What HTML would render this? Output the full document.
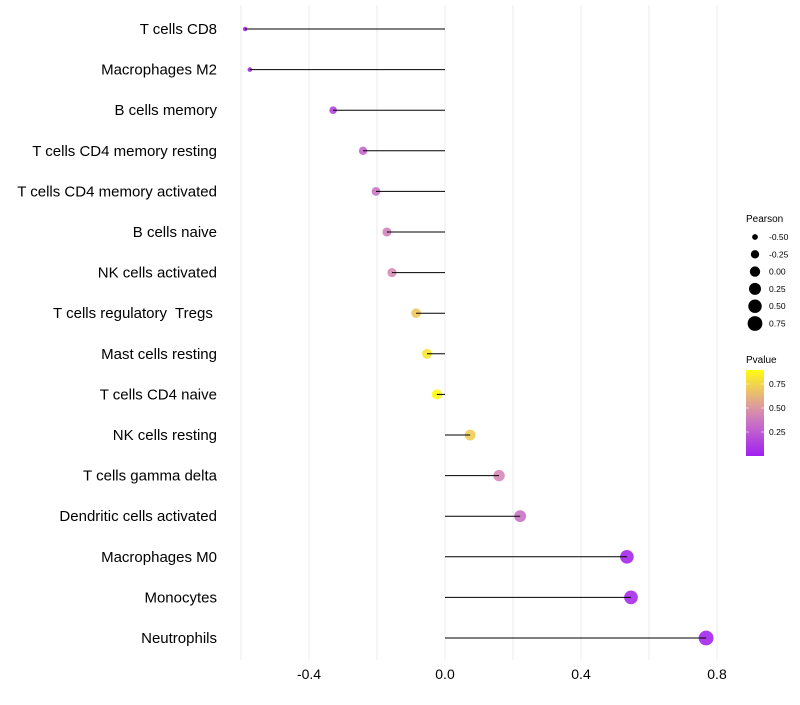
<!DOCTYPE html>
<html><head><meta charset="utf-8"><style>
body{margin:0;background:#fff;font-family:"Liberation Sans",sans-serif}
text{white-space:pre}
</style></head><body>
<svg id="chart" width="800" height="700" xmlns="http://www.w3.org/2000/svg"></svg>
<script>
const categories=["T cells CD8","Macrophages M2","B cells memory","T cells CD4 memory resting","T cells CD4 memory activated","B cells naive","NK cells activated","T cells regulatory  Tregs ","Mast cells resting","T cells CD4 naive","NK cells resting","T cells gamma delta","Dendritic cells activated","Macrophages M0","Monocytes","Neutrophils"];
const pearson=[-0.588,-0.574,-0.329,-0.241,-0.203,-0.171,-0.156,-0.085,-0.053,-0.024,0.074,0.159,0.221,0.535,0.547,0.768];
const pvalue=[0.03,0.04,0.15,0.3,0.36,0.42,0.46,0.7,0.82,0.92,0.72,0.45,0.35,0.04,0.05,0.03];
const xTicks=[-0.4,0,0.4,0.8];
const xGrid=[-0.6,-0.4,-0.2,0,0.2,0.4,0.6,0.8];
const sizeLegend=[-0.5,-0.25,0,0.25,0.5,0.75];
const colorTicks=[0.25,0.5,0.75];
const NS="http://www.w3.org/2000/svg";
const svg=document.getElementById('chart');
function x(v){return 445+v*340;}
function y(i){return 29+i*40.6;}
function r(v){return Math.sqrt(4.5+37*Math.max(0,v+0.6));}
function col(p){
  const stops=[[0,[160,32,240]],[0.45,[214,138,184]],[0.9,[255,250,20]]];
  if(p<=0)return 'rgb(160,32,240)';
  for(let k=1;k<stops.length;k++){if(p<=stops[k][0]||k==stops.length-1){
    const a=stops[k-1],b=stops[k];let t=Math.min(1,(p-a[0])/(b[0]-a[0]));
    return 'rgb('+a[1].map((c,j)=>Math.round(c+(b[1][j]-c)*t)).join(',')+')';}}
}
function el(t,a,parent){const e=document.createElementNS(NS,t);for(const k in a)e.setAttribute(k,a[k]);(parent||svg).appendChild(e);return e;}
xGrid.forEach(v=>{const g=el('line',{x1:x(v),x2:x(v),y1:5,y2:660,stroke:'#ebebeb','stroke-width':1});

});
xTicks.forEach(v=>{const t=el('text',{x:x(v),y:679,'text-anchor':'middle','font-size':14,fill:'#000'});t.textContent=v.toFixed(1);

});
categories.forEach((c,i)=>{
  const t=el('text',{x:217,y:y(i)+5,'text-anchor':'end','font-size':15,fill:'#000'});t.textContent=c;
  
  
  const p=el('circle',{cx:x(pearson[i]),cy:y(i),r:r(pearson[i]),fill:col(pvalue[i]),opacity:0.9});
  
  
  const l=el('line',{x1:x(0),x2:x(pearson[i]),y1:y(i),y2:y(i),stroke:'#000','stroke-width':1});
  
  
});
const lt=el('text',{x:746,y:222,'font-size':10,fill:'#000'});lt.textContent='Pearson';


sizeLegend.forEach((v,k)=>{const cy=237+k*17.3;
  const c=el('circle',{cx:755,cy:cy,r:r(v),fill:'#000'});
  
  
  const t=el('text',{x:769,y:cy+3,'font-size':8.5,fill:'#000'});t.textContent=v.toFixed(2);
  
  });
const ct=el('text',{x:746,y:363,'font-size':10,fill:'#000'});ct.textContent='Pvalue';


const defs=el('defs',{});const lg=el('linearGradient',{id:'pg',x1:0,y1:1,x2:0,y2:0},defs);
[0,0.2,0.4,0.6,0.8,1].forEach(f=>el('stop',{offset:f,'stop-color':col(f*0.9)},lg));
const bar=el('rect',{x:746,y:370,width:18,height:86,fill:'url(#pg)'});


colorTicks.forEach(v=>{const cy=456-v*96;
  el('line',{x1:746,x2:749,y1:cy,y2:cy,stroke:'#fff','stroke-width':0.6});
  el('line',{x1:761,x2:764,y1:cy,y2:cy,stroke:'#fff','stroke-width':0.6});
  const t=el('text',{x:769,y:cy+3,'font-size':8.5,fill:'#000'});t.textContent=v.toFixed(2);
  
  });
</script>
</body></html>
